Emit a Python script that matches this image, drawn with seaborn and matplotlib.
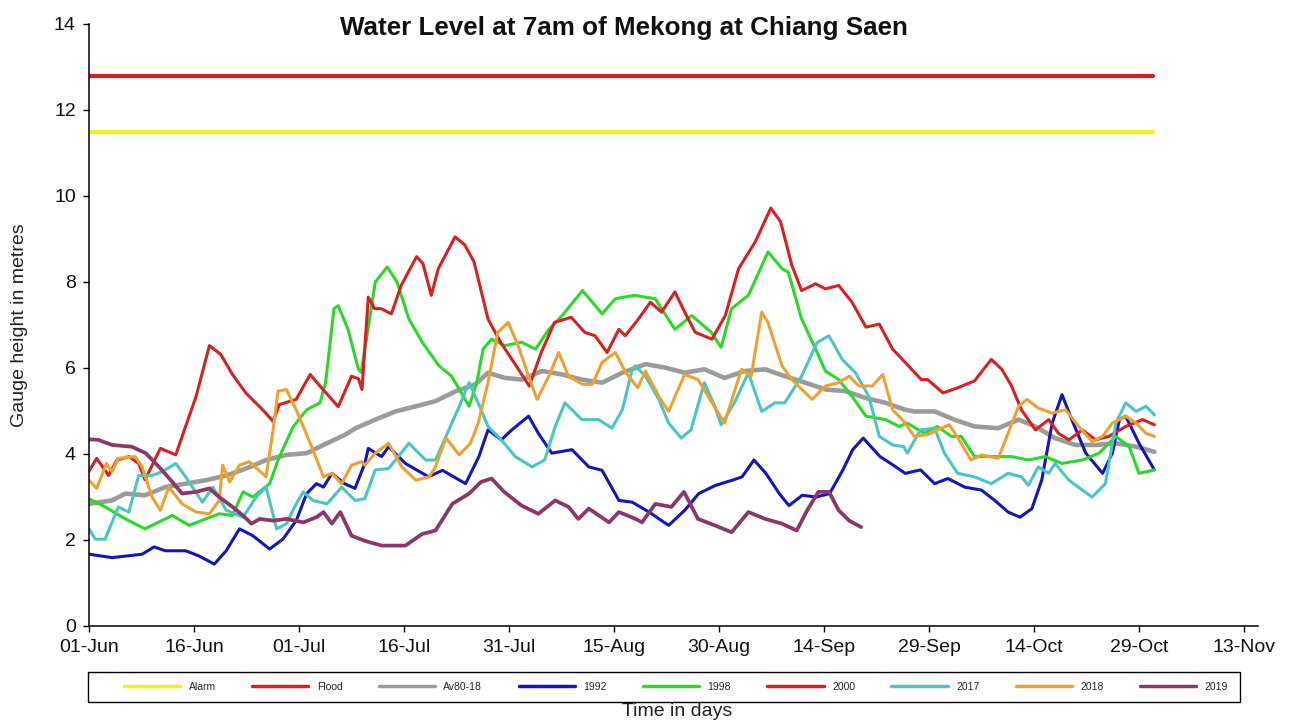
import matplotlib
matplotlib.use("Agg")
import matplotlib.pyplot as plt
import seaborn as sns

# days counted from 01-Jun, gauge height in metres
threshold_days = [0, 152]
alarm_level = [11.5, 11.5]
flood_level = [12.8, 12.8]

days_av = [0, 3.3, 5.2, 8, 10.9, 13.8, 16.7, 19.6, 22.4, 25.3, 28.2, 31.1, 34, 36.6, 38.1, 40.9, 43.8,
           46.7, 49.5, 52.4, 55.2, 57, 59.4, 61.8, 64.7, 67.6, 70.4, 73.3, 76.2, 79.5, 82.3, 85.1, 87.9,
           90.8, 93.7, 96.6, 99.4, 102.3, 105.2, 108.1, 111, 113.8, 116.6, 117.9, 120.8, 123.6, 126.5,
           129.9, 132.8, 135.2, 138, 140.9, 143.8, 146.7, 149.6, 152.2]
level_av = [2.84, 2.92, 3.08, 3.04, 3.23, 3.31, 3.39, 3.5, 3.66, 3.86, 3.98, 4.02, 4.25, 4.45, 4.6, 4.8, 4.99,
            5.11, 5.23, 5.46, 5.62, 5.89, 5.77, 5.73, 5.93, 5.85, 5.73, 5.66, 5.89, 6.09, 6.01, 5.89, 5.97,
            5.77, 5.93, 5.97, 5.81, 5.66, 5.5, 5.46, 5.3, 5.19, 5.03, 4.99, 4.99, 4.8, 4.64,
            4.6, 4.8, 4.64, 4.37, 4.21, 4.21, 4.25, 4.17, 4.05]

days_1992 = [0, 3.3, 7.6, 9.3, 10.9, 13.8, 15.7, 17.9, 19.6, 21.5, 23.4, 25.8, 27.7, 29.6, 31.1, 32.5, 33.5,
             34.7, 36.5, 38, 39.4, 39.9, 41.8, 42.8, 45.2, 48.5, 50.5, 53.8, 55.7, 57, 58.9, 60.4, 62.8,
             64.2, 66.1, 69, 71.4, 73.3, 75.7, 77.6, 80, 82.8, 85.1, 87.1, 89.5, 91.9, 93.3, 95, 96.7,
             98.6, 100, 101.9, 103.9, 105.8, 107.7, 109.1, 110.6, 113, 114.9, 116.6, 118.8, 120.8, 122.7,
             125.1, 127.5, 129.4, 131.3, 133, 134.7, 136.1, 137.6, 139, 140.4, 142.4, 144.8, 146.2, 147.2,
             148.1, 150, 152.2]
level_1992 = [1.67, 1.59, 1.67, 1.84, 1.75, 1.75, 1.63, 1.44, 1.75, 2.26, 2.1, 1.79, 2.02, 2.45, 3.08, 3.31, 3.23,
              3.55, 3.31, 3.2, 3.78, 4.13, 3.94, 4.17, 3.78, 3.47, 3.62, 3.31, 3.94, 4.56, 4.33, 4.56, 4.88,
              4.48, 4.02, 4.1, 3.7, 3.62, 2.92, 2.88, 2.65, 2.34, 2.69, 3.08, 3.27, 3.39, 3.47, 3.86, 3.55,
              3.08, 2.8, 3.04, 3.0, 3.08, 3.63, 4.1, 4.37, 3.94, 3.74, 3.55, 3.63, 3.31, 3.43,
              3.23, 3.16, 2.92, 2.65, 2.53, 2.73, 3.39, 4.72, 5.38, 4.8, 4.02, 3.55, 4.02, 4.8,
              4.88, 4.25, 3.63]

days_1998 = [0, 2.3, 5.2, 8, 11.9, 14.3, 18.6, 20.5, 22, 23.4, 25.8, 27.2, 29.2, 31.1, 33, 33.8, 35, 35.6,
             37, 38.5, 38.9, 40.9, 42.6, 44, 45.7, 47.6, 50, 51.8, 53.2, 54.3, 55.4, 56.3, 57.5, 59.4,
             61.8, 63.8, 65.7, 67.6, 70.5, 73.3, 75.2, 77.9, 80.9, 83.7, 86.1, 88.9, 90.3, 91.8, 94.2, 97,
             99, 99.9, 101.8, 103.8, 105.2, 107.1, 109, 111, 113.8, 115.7, 116.9, 119.3, 121.2, 123.2,
             124.6, 126.5, 129.4, 131.8, 134.2, 136.6, 139, 141.9, 144.3, 146.7, 148.6, 150, 152.2]
level_1998 = [2.96, 2.77, 2.49, 2.26, 2.57, 2.34, 2.61, 2.57, 3.12, 3.0, 3.31, 3.94, 4.64, 5.03, 5.19, 5.66, 7.38, 7.45,
              6.9, 5.97, 5.9, 8.0, 8.35, 8.0, 7.14, 6.6, 6.05, 5.81, 5.42, 5.11, 5.66, 6.44, 6.67, 6.52,
              6.6, 6.44, 6.9, 7.22, 7.8, 7.26, 7.61, 7.69, 7.61, 6.9, 7.22, 6.83, 6.48, 7.38, 7.69, 8.7,
              8.31, 8.23, 7.14, 6.44, 5.93, 5.73, 5.34, 4.88, 4.8, 4.64, 4.72, 4.48, 4.64, 4.41,
              4.41, 3.94, 3.94, 3.94, 3.86, 3.94, 3.78, 3.86, 4.02, 4.41, 4.17, 3.55, 3.63]

days_2000 = [0, 1.1, 2.8, 4, 5.7, 7.1, 8, 10.2, 12.4, 13.8, 15.3, 17.2, 18.8, 20.5, 22.4, 24.8, 26.3, 27.2,
             29.6, 31.6, 33, 35.6, 37.5, 38.5, 39, 39.9, 40.8, 41.7, 43.2, 44.6, 46.8, 47.7, 48.9, 49.9,
             52.3, 53.7, 55, 57, 58.8, 60.7, 62.9, 64.6, 66.5, 68.9, 70.8, 72.3, 74, 75.7, 76.6, 78.5,
             80.2, 81.8, 83.7, 85.1, 86.6, 89, 90.9, 92.8, 95.2, 97.4, 98.8, 100.4, 101.8, 103.8, 105.2,
             107.1, 109, 111, 112.9, 114.8, 116.6, 118.9, 119.8, 122, 124.1, 126.5, 128.9, 130.4, 131.8,
             133.2, 135.2, 137.1, 138.5, 140, 141.9, 143.8, 145.7, 148.1, 150.5, 152.2]
level_2000 = [3.6, 3.9, 3.5, 3.86, 3.94, 3.78, 3.4, 4.13, 3.98, 4.64, 5.34, 6.52, 6.32, 5.85, 5.42, 5.03, 4.76, 5.15,
              5.27, 5.85, 5.58, 5.1, 5.81, 5.75, 5.5, 7.65, 7.38, 7.38, 7.26, 7.92, 8.59, 8.43, 7.69, 8.31,
              9.05, 8.86, 8.47, 7.14, 6.6, 6.13, 5.58, 6.36, 7.06, 7.18, 6.83, 6.75, 6.36, 6.9, 6.75, 7.14,
              7.53, 7.3, 7.77, 7.3, 6.83, 6.67, 7.22, 8.31, 8.94, 9.72, 9.4, 8.39, 7.8, 7.96, 7.84,
              7.92, 7.53, 6.95, 7.02, 6.44, 6.13, 5.73, 5.73, 5.42, 5.54, 5.7, 6.2, 5.97, 5.58,
              5.03, 4.56, 4.8, 4.48, 4.33, 4.56, 4.33, 4.41, 4.64, 4.8, 4.68]

days_2017 = [0, 0.9, 2.3, 4.2, 5.7, 7.1, 9, 10.5, 12.4, 13.8, 16.2, 17.7, 19.6, 22, 23.9, 25.3, 26.8, 28.2,
             29.6, 30.6, 32, 34, 36.1, 38, 39.4, 40.9, 42.8, 45.7, 48.1, 49.5, 51.4, 52.9, 54.3, 55.8, 57,
             58.9, 60.9, 63.3, 65.1, 66.6, 68, 70.4, 72.8, 74.7, 76.2, 77.6, 78, 79.5, 81.4, 82.8, 84.6,
             86, 87.9, 89.4, 90.3, 92.2, 94.2, 96.1, 98, 99.4, 101.8, 104, 105.7, 107.6, 109.5, 111.4,
             112.9, 114.8, 116.4, 116.9, 118.8, 120.8, 122.2, 124.1, 126.5, 128.9, 131.3, 133.2, 134.2,
             135.6, 137.1, 138, 140, 141.9, 143.3, 145.2, 146.7, 148.1, 149.6, 151, 152.2]
level_2017 = [2.26, 2.02, 2.02, 2.77, 2.65, 3.5, 3.5, 3.59, 3.78, 3.47, 2.88, 3.23, 2.69, 2.53, 3.0, 3.23, 2.26, 2.38,
              2.84, 3.12, 2.92, 2.84, 3.23, 2.92, 2.96, 3.63, 3.66, 4.25, 3.86, 3.86, 4.56, 5.11, 5.66, 5.11, 4.64,
              4.33, 3.94, 3.7, 3.86, 4.64, 5.19, 4.8, 4.8, 4.6, 5.03, 5.97, 6.05, 5.81, 5.27, 4.72, 4.37,
              4.56, 5.66, 5.11, 4.68, 5.19, 5.89, 4.99, 5.19, 5.19, 5.81, 6.59, 6.75, 6.2, 5.89, 5.34,
              4.41, 4.21, 4.17, 4.02, 4.56, 4.6, 4.02, 3.55, 3.47, 3.31, 3.55, 3.47, 3.27,
              3.7, 3.55, 3.78, 3.39, 3.16, 3.0, 3.31, 4.72, 5.19, 4.99, 5.11, 4.91]

days_2018 = [0, 1.1, 2.5, 3.3, 4.2, 6.6, 7.6, 9, 10.2, 11.4, 13.3, 15.3, 17.2, 18.6, 19.1, 20.1, 21.5, 22.9,
             25.3, 26.3, 27, 28.2, 29.6, 31.6, 33.5, 34.7, 36.1, 37.5, 38.9, 39.4, 40.9, 42.8, 44.7, 46.7,
             48.6, 49.5, 51, 52.9, 54.5, 55.6, 57, 58.4, 59.9, 61.3, 62.8, 64, 65.7, 67.1, 68.5, 70.5, 71.9,
             73.3, 75.2, 76.7, 78.4, 79.5, 81.4, 82.8, 85.1, 87, 89, 90.8, 93.2, 94.6, 96.1, 97, 99, 100.4,
             103.3, 105.2, 107.1, 108.6, 110, 111.9, 113.4, 114.8, 116.4, 117.9, 119.8, 121.2, 122.9, 124.6,
             126, 127.5, 129.9, 131.3, 132.8, 134, 135.6, 137.6, 139.5, 141.4, 143.3, 144.8, 146.2, 148.1,
             149.6, 151, 152.2]
level_2018 = [3.39, 3.2, 3.78, 3.59, 3.9, 3.94, 3.7, 3.0, 2.69, 3.23, 2.84, 2.65, 2.61, 2.92, 3.74, 3.35, 3.74, 3.82,
              3.47, 4.56, 5.46, 5.5, 5.03, 4.25, 3.47, 3.55, 3.31, 3.74, 3.82, 3.74, 4.02, 4.25, 3.7, 3.39,
              3.47, 3.7, 4.37, 3.98, 4.25, 4.72, 5.66, 6.83, 7.06, 6.52, 5.81, 5.27, 5.81, 6.36, 5.81, 5.62, 5.62,
              6.13, 6.36, 5.89, 5.54, 5.93, 5.34, 4.99, 5.85, 5.73, 5.19, 4.72, 5.97, 5.81, 7.3, 7.06, 6.05, 5.73,
              5.27, 5.58, 5.66, 5.81, 5.58, 5.58, 5.85, 5.03, 4.76, 4.41, 4.45, 4.56, 4.68, 4.25,
              3.86, 3.98, 3.9, 4.48, 5.11, 5.27, 5.07, 4.95, 5.03, 4.64, 4.29, 4.41, 4.72, 4.88,
              4.72, 4.48, 4.41]

days_2019 = [0, 1.3, 3.3, 6.1, 8.1, 10, 11.9, 13.3, 15.3, 17.2, 18.6, 20.5, 22, 23.2, 24.4, 26.3, 28.2, 30.6,
             32.5, 33.5, 34.7, 35.9, 37.5, 39.4, 41.8, 45.2, 47.6, 49.5, 51.9, 54.3, 56, 57.5, 59.3, 61.8,
             64.2, 66.6, 68.5, 69.9, 71.4, 74.3, 75.7, 78.1, 79, 80.9, 83.2, 85, 87, 89.4, 91.8, 94.2, 96.6,
             99, 101.1, 102.6, 104.2, 105.7, 107.1, 108.6, 110.3]
level_2019 = [4.34, 4.33, 4.21, 4.17, 4.02, 3.7, 3.35, 3.08, 3.12, 3.2, 3.0, 2.77, 2.57, 2.38, 2.49, 2.45, 2.49, 2.41,
              2.53, 2.65, 2.38, 2.65, 2.1, 1.98, 1.87, 1.87, 2.14, 2.22, 2.84, 3.08, 3.35, 3.43, 3.12, 2.8,
              2.61, 2.92, 2.77, 2.49, 2.73, 2.41, 2.65, 2.49, 2.41, 2.84, 2.77, 3.12, 2.49, 2.34, 2.18, 2.65, 2.49,
              2.38, 2.22, 2.69, 3.12, 3.12, 2.69, 2.45, 2.3]

tick_days = [0, 15, 30, 45, 60, 75, 90, 105, 120, 135, 150, 165]
tick_labels = ['01-Jun', '16-Jun', '01-Jul', '16-Jul', '31-Jul', '15-Aug', '30-Aug',
               '14-Sep', '29-Sep', '14-Oct', '29-Oct', '13-Nov']

series = [
    ('Alarm', threshold_days, alarm_level, '#f2f21a', 3.0),
    ('Flood', threshold_days, flood_level, '#d81e1e', 3.0),
    ('Av80-18', days_av, level_av, '#9b9b9b', 3.3),
    ('1992', days_1992, level_1992, '#1414c0', 2.2),
    ('1998', days_1998, level_1998, '#2ad82a', 2.2),
    ('2000', days_2000, level_2000, '#d82020', 2.2),
    ('2017', days_2017, level_2017, '#4cc4c4', 2.2),
    ('2018', days_2018, level_2018, '#eea035', 2.2),
    ('2019', days_2019, level_2019, '#8a3868', 2.7),
]

sns.set_theme(style="ticks")
plt.rcParams['font.family'] = ['Liberation Sans', 'DejaVu Sans']

fig = plt.figure(figsize=(12.96, 7.2), dpi=100)
ax = fig.add_axes([89 / 1296, 94 / 720, 1169 / 1296, 602 / 720])

for name, x, y, color, lw in series:
    sns.lineplot(x=x, y=y, ax=ax, color=color, linewidth=lw, label=name,
                 sort=False, estimator=None, solid_joinstyle='round')

ax.set_xlim(0, 167)
ax.set_ylim(0, 14)
ax.set_xticks(tick_days)
ax.set_xticklabels(tick_labels)
ax.set_yticks(range(0, 15, 2))
ax.tick_params(axis='both', labelsize=14, length=4.5, width=1, color='black', pad=5, labelcolor='#111111')
for side in ['left', 'bottom']:
    ax.spines[side].set_color('black')
    ax.spines[side].set_linewidth(1.1)
sns.despine(ax=ax)
ax.set_xlabel('')
ax.set_ylabel('')

handles, labels = ax.get_legend_handles_labels()
ax.get_legend().remove()

fig.text(624 / 1296, 1 - 28 / 720, 'Water Level at 7am of Mekong at Chiang Saen',
         ha='center', va='center', fontsize=18.7, fontweight='bold', color='#111111')
fig.text(20 / 1296, 1 - 325 / 720, 'Gauge height in metres', rotation=90,
         ha='center', va='center', fontsize=14, color='#222222')
fig.text(677 / 1296, 1 - 711 / 720, 'Time in days', ha='center', va='center',
         fontsize=14, color='#222222', zorder=3)

# legend frame drawn separately so the entries can be spread evenly
box = plt.Rectangle((88 / 1296, 18 / 720), 1152 / 1296, 30 / 720, transform=fig.transFigure,
                    facecolor='white', edgecolor='black', linewidth=1.0, zorder=4)
fig.add_artist(box)
leg = fig.legend(handles, labels, loc='center', ncol=9, mode='expand',
                 bbox_to_anchor=(120 / 1296, 18 / 720, 1112 / 1296, 30 / 720),
                 bbox_transform=fig.transFigure, fontsize=7.5, handlelength=5.4,
                 handletextpad=0.8, frameon=False, borderaxespad=0)
leg.set_zorder(5)
for line in leg.get_lines():
    line.set_linewidth(2.5)

fig.savefig('out.png', dpi=100, facecolor='white')
